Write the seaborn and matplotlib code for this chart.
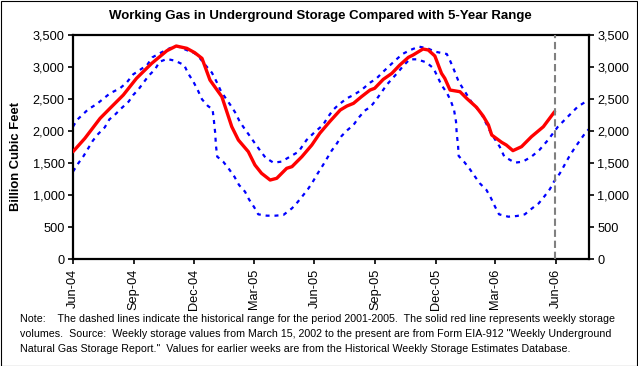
import numpy as np
import pandas as pd
import matplotlib
matplotlib.use('Agg')
import matplotlib.pyplot as plt
from matplotlib.ticker import FuncFormatter
from matplotlib.patches import Rectangle
import seaborn as sns

# ---------------- data ----------------
start_date = '2004-06-01'
# days since start_date
red_day = [0, 18, 41, 56, 76, 96, 119, 142, 156, 172, 184, 195, 207, 225, 230, 240, 250, 265,
           275, 285, 298, 308, 323, 331, 346, 361, 373, 388, 404, 414, 424, 436, 449, 456,
           469, 482, 494, 507, 514, 529, 537, 547, 557, 562, 570, 585, 595, 610, 620, 628,
           633, 648, 655, 665, 678, 693, 711, 728]
red_val = [1677, 1886, 2198, 2355, 2562, 2823, 3057, 3255, 3328, 3292, 3224, 3135, 2797, 2536,
           2380, 2067, 1859, 1677, 1469, 1339, 1234, 1261, 1417, 1443, 1599, 1781, 1964, 2146,
           2328, 2390, 2432, 2536, 2640, 2667, 2807, 2901, 3031, 3151, 3187, 3281, 3266, 3172,
           2901, 2823, 2640, 2614, 2511, 2370, 2234, 2094, 1937, 1823, 1781, 1693, 1755, 1911,
           2067, 2302]

hi_day = [0, 6, 23, 36, 56, 71, 81, 91, 101, 112, 120, 131, 146, 157, 169, 184, 192, 200,
          210, 217, 224, 232, 239, 246, 252, 260, 268, 275, 283, 291, 303, 315, 328, 341,
          353, 366, 378, 384, 393, 401, 414, 424, 436, 449, 459, 469, 478, 489, 498, 510,
          523, 536, 547, 565, 570, 576, 583, 602, 617, 632, 645, 652, 668, 680, 693, 705,
          718, 733, 748, 763, 780]
hi_val = [2067, 2172, 2339, 2422, 2589, 2667, 2755, 2885, 2953, 3031, 3151, 3214, 3292, 3328,
          3276, 3214, 3135, 3031, 2911, 2770, 2614, 2495, 2390, 2276, 2146, 2026, 1911, 1807,
          1693, 1583, 1505, 1521, 1599, 1677, 1859, 1989, 2094, 2198, 2328, 2406, 2511, 2562,
          2640, 2755, 2823, 2927, 3016, 3120, 3203, 3266, 3318, 3292, 3240, 3203, 3099, 2953,
          2770, 2458, 2276, 1964, 1755, 1599, 1505, 1521, 1599, 1703, 1859, 2067, 2224, 2380,
          2490]

lo_day = [0, 8, 16, 23, 30, 38, 48, 55, 63, 72, 84, 91, 99, 114, 124, 131, 142, 154, 168,
          174, 182, 189, 195, 204, 211, 213, 215, 216, 218, 227, 235, 244, 251, 260, 266,
          274, 280, 293, 306, 318, 331, 338, 347, 355, 362, 370, 378, 384, 391, 399, 406,
          415, 424, 431, 441, 450, 458, 467, 474, 483, 492, 499, 509, 520, 534, 545, 551,
          557, 565, 571, 576, 579, 580, 582, 583, 591, 599, 607, 615, 625, 632, 638, 644,
          658, 671, 683, 694, 704, 713, 721, 727, 736, 743, 750, 758, 765, 774, 780]
lo_val = [1365, 1495, 1609, 1729, 1849, 1953, 2057, 2182, 2250, 2344, 2458, 2562, 2651, 2859,
          2964, 3083, 3125, 3099, 3031, 2901, 2770, 2630, 2495, 2390, 2339, 2161, 1964, 1781,
          1599, 1521, 1417, 1286, 1156, 1052, 932, 807, 698, 677, 677, 688, 792, 870, 984,
          1089, 1198, 1339, 1469, 1573, 1693, 1807, 1922, 2016, 2094, 2198, 2318, 2380, 2484,
          2614, 2719, 2823, 2927, 3016, 3120, 3120, 3073, 2979, 2848, 2719, 2599, 2474, 2328,
          2146, 1964, 1781, 1609, 1521, 1417, 1297, 1182, 1078, 948, 817, 698, 661, 672, 698,
          792, 870, 984, 1094, 1208, 1339, 1469, 1599, 1729, 1833, 1964, 2030]

current_day = 728
x_end_day = 780

tick_dates = ['2004-06-01', '2004-09-01', '2004-12-01', '2005-03-01', '2005-06-01',
              '2005-09-01', '2005-12-01', '2006-03-01', '2006-06-01']
tick_labels = ['Jun-04', 'Sep-04', 'Dec-04', 'Mar-05', 'Jun-05', 'Sep-05', 'Dec-05',
               'Mar-06', 'Jun-06']
y_ticks = [0, 500, 1000, 1500, 2000, 2500, 3000, 3500]

title = 'Working Gas in Underground Storage Compared with 5-Year Range'
y_label = 'Billion Cubic Feet'
note_lines = [
    'Note:    The dashed lines indicate the historical range for the period 2001-2005.  The solid red line represents weekly storage',
    'volumes.  Source:  Weekly storage values from March 15, 2002 to the present are from Form EIA-912 "Weekly Underground',
    'Natural Gas Storage Report."  Values for earlier weeks are from the Historical Weekly Storage Estimates Database.',
]

# ---------------- build frames ----------------
t0 = pd.Timestamp(start_date)
def to_dates(days):
    return t0 + pd.to_timedelta(np.asarray(days), unit='D')

red_df = pd.DataFrame({'date': to_dates(red_day), 'value': red_val})
hi_df = pd.DataFrame({'date': to_dates(hi_day), 'value': hi_val})
lo_df = pd.DataFrame({'date': to_dates(lo_day), 'value': lo_val})

# ---------------- figure ----------------
sns.set_theme(style='white')
plt.rcParams['font.family'] = ['Liberation Sans', 'DejaVu Sans']

W, H = 638, 366
fig = plt.figure(figsize=(W / 100, H / 100), dpi=100)
fig.patch.set_facecolor('white')
ax = fig.add_axes([73 / W, 1 - 259 / H, 516 / W, 224 / H])
ax.set_facecolor('white')

blue = '#0000FF'
dash = (0, (1.8, 2.2))
sns.lineplot(data=hi_df, x='date', y='value', ax=ax, color=blue, linewidth=1.6,
             linestyle=dash, sort=False, estimator=None)
sns.lineplot(data=lo_df, x='date', y='value', ax=ax, color=blue, linewidth=1.6,
             linestyle=dash, sort=False, estimator=None)
sns.lineplot(data=red_df, x='date', y='value', ax=ax, color='#FF0000', linewidth=2.4,
             sort=False, estimator=None, zorder=3)

ax.axvline(to_dates([current_day])[0], color='#808080', linewidth=1.5,
           linestyle=(0, (3.5, 1.8)), zorder=4)

ax.set_xlim(t0, to_dates([x_end_day])[0])
ax.set_ylim(0, 3500)
ax.set_xticks(pd.to_datetime(tick_dates))
ax.set_xticklabels(tick_labels, rotation=90)
ax.set_yticks(y_ticks)
ax.yaxis.set_major_formatter(FuncFormatter(lambda v, p: f'{int(v):,}'))
ax.set_xlabel('')
ax.set_ylabel('')

for s in ax.spines.values():
    s.set_visible(True)
    s.set_color('black')
    s.set_linewidth(1.6)

ax.tick_params(axis='y', which='both', direction='out', length=3.5, width=1.2,
               left=True, right=True, labelleft=True, labelright=True,
               labelsize=9.2, pad=2.5, colors='black')
ax.tick_params(axis='x', direction='out', length=3.5, width=1.2, bottom=True,
               labelsize=9.2, pad=3.5, colors='black')
ax.grid(False)

fig.text(320.5 / W, 1 - 16 / H, title, ha='center', va='center', fontsize=9.5,
         fontweight='bold', color='black')
fig.text(15.7 / W, 1 - 157 / H, y_label, ha='center', va='center', rotation=90,
         fontsize=9.4, fontweight='bold', color='black')

for i, line in enumerate(note_lines):
    fig.text(20 / W, 1 - (319 + i * 15.2) / H, line, ha='left', va='center',
             fontsize=7.7, color='black')

fig.add_artist(Rectangle((0.5 / W, 0.5 / H), 1 - 1.5 / W, 1 - 1.5 / H,
                         transform=fig.transFigure, fill=False, edgecolor='black',
                         linewidth=0.8))

fig.savefig('out.png', dpi=100)
